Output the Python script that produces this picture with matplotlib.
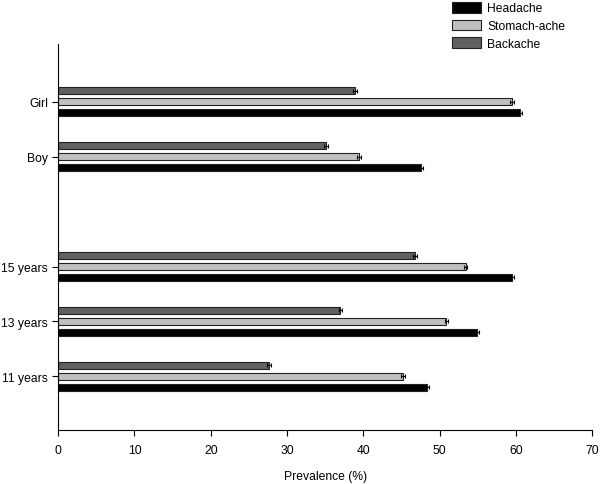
import numpy as np
import matplotlib
matplotlib.use('Agg')
import matplotlib.pyplot as plt

plt.rcParams['font.family'] = ['Liberation Sans', 'DejaVu Sans']

groups = ['11 years', '13 years', '15 years', '', 'Boy', 'Girl']
headache = [48.4, 54.9, 59.5, np.nan, 47.6, 60.5]
stomach = [45.2, 50.9, 53.4, np.nan, 39.4, 59.5]
backache = [27.6, 37.0, 46.8, np.nan, 35.1, 38.9]
err = [0.25, 0.25, 0.25, np.nan, 0.25, 0.25]

series = [('Headache', headache, '#000000', -0.2),
          ('Stomach-ache', stomach, '#c0c0c0', 0.0),
          ('Backache', backache, '#606060', 0.2)]

fs = 8.7
fig = plt.figure(figsize=(6, 4.85), dpi=100)
ax = fig.add_axes([0.097, 0.111, 0.89, 0.796])

y = np.arange(len(groups))
handles = []
for name, vals, col, off in series:
    h = ax.barh(y + off, vals, height=0.135, color=col, edgecolor='#222222',
                linewidth=0.8, label=name)
    ax.errorbar(vals, y + off, xerr=err, fmt='none', ecolor='black',
                elinewidth=0.8, capsize=1.2, capthick=0.8)
    handles.append(h)

ax.set_xlim(0, 70)
ax.set_ylim(-0.98, 6.05)
ax.set_xticks(np.arange(0, 71, 10))
keep = [i for i, g in enumerate(groups) if g]
ax.set_yticks(keep)
ax.set_yticklabels([groups[i] for i in keep])
ax.tick_params(axis='both', labelsize=fs, direction='out', length=4, width=0.8)
ax.tick_params(axis='x', pad=6)
for s in ['top', 'right']:
    ax.spines[s].set_visible(False)
for s in ['left', 'bottom']:
    ax.spines[s].set_linewidth(0.8)
ax.set_xlabel('Prevalence (%)', fontsize=fs, labelpad=10)

fig.legend(handles=handles, loc='upper left', bbox_to_anchor=(0.745, 1.004),
           frameon=False, fontsize=fs, handlelength=2.4, handleheight=1.0,
           labelspacing=0.42, handletextpad=0.55, borderaxespad=0)

fig.savefig('out.png', dpi=100)
